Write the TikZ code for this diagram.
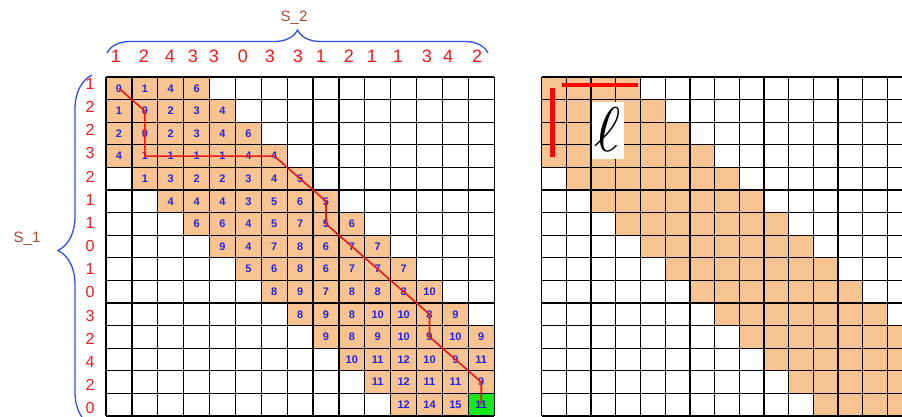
\documentclass[tikz,border=0pt]{standalone}
\usepackage{fontspec}
\usepackage{graphicx}
\setmainfont{Liberation Sans}
\usetikzlibrary{decorations.pathreplacing}
\definecolor{peach}{RGB}{247,196,145}
\definecolor{cellgreen}{RGB}{20,235,20}
\definecolor{numblue}{RGB}{35,35,225}
\definecolor{labred}{RGB}{245,25,25}
\definecolor{bracblue}{RGB}{50,80,240}
\definecolor{sbrown}{RGB}{170,75,55}
\definecolor{pathred}{RGB}{235,25,25}
\begin{document}
\begin{tikzpicture}[x=1pt,y=-1pt,
  gridline/.style={line width=1.3pt,black},
  num/.style={text=numblue,font=\fontsize{11}{12}\selectfont\bfseries,inner sep=0pt},
  rowlab/.style={text=labred,font=\fontsize{16}{18}\selectfont,inner sep=0pt},
  toplab/.style={text=labred,font=\fontsize{18}{20}\selectfont,inner sep=0pt},
  slab/.style={text=sbrown,font=\fontsize{15}{17}\selectfont,inner sep=0pt},
  redpath/.style={draw=pathred,line width=1.6pt},
  redbar/.style={draw=red,line width=4.5pt},
  bracestyle/.style={draw=bracblue,line width=1.3pt,decorate}]
\useasboundingbox (0,0) rectangle (902,416);
\clip (0,0) rectangle (902,416);
\fill[white] (0,0) rectangle (902,416);
% band fills
\foreach \r in {1,...,15}{
  \pgfmathtruncatemacro\cs{max(1,\r-3)}
  \pgfmathtruncatemacro\ce{min(15,\r+3)}
  \fill[peach] ({106+(\cs-1)*25.88},{77+(\r-1)*22.6}) rectangle ({106+\ce*25.88},{77+\r*22.6});
  \fill[peach] ({541.7+(\cs-1)*24.7},{77+(\r-1)*22.6}) rectangle ({541.7+\ce*24.7},{77+\r*22.6});
}
\fill[cellgreen] ({106+14*25.88},{77+14*22.6}) rectangle ({106+15*25.88},{77+15*22.6});
% grid lines
\foreach \i in {0,...,15}{
  \draw[gridline] ({106+\i*25.88},77) -- ({106+\i*25.88},416);
  \draw[gridline] (106,{77+\i*22.6}) -- ({106+15*25.88},{77+\i*22.6});
  \draw[gridline] ({541.7+\i*24.7},77) -- ({541.7+\i*24.7},416);
  \draw[gridline] (541.7,{77+\i*22.6}) -- (910,{77+\i*22.6});
}
% numbers
\foreach \r/\s/\vals in {1/1/{0,1,4,6},2/1/{1,0,2,3,4},3/1/{2,0,2,3,4,6},4/1/{4,1,1,1,1,4,4},
  5/2/{1,3,2,2,3,4,5},6/3/{4,4,4,3,5,6,5},7/4/{6,6,4,5,7,5,6},8/5/{9,4,7,8,6,7,7},
  9/6/{5,6,8,6,7,7,7},10/7/{8,9,7,8,8,8,10},11/8/{8,9,8,10,10,8,9},12/9/{9,8,9,10,9,10,9},
  13/10/{10,11,12,10,9,11},14/11/{11,12,11,11,9},15/12/{12,14,15,11}}{
  \foreach \v [count=\k from 0] in \vals {
    \pgfmathtruncatemacro\c{\s+\k}
    \node[num] (n-\r-\c) at ({106+(\c-0.5)*25.88},{77+(\r-0.5)*22.6}) {\v};
  }
}
% red path
\draw[redpath] (n-1-1.center) -- (n-2-2.center) -- (n-3-2.center) -- (n-4-2.center)
  -- (n-4-3.center) -- (n-4-4.center) -- (n-4-5.center) -- (n-4-6.center) -- (n-4-7.center)
  -- (n-5-8.center) -- (n-6-9.center) -- (n-7-9.center) -- (n-8-10.center) -- (n-9-11.center)
  -- (n-10-12.center) -- (n-11-13.center) -- (n-12-13.center) -- (n-13-14.center)
  -- (n-14-15.center) -- (n-15-15.center);
% row labels
\foreach \v [count=\i] in {1,2,2,3,2,1,1,0,1,0,3,2,4,2,0}
  \node[rowlab] (r\i) at (90,{84+(\i-1)*23.16}) {\v};
% column labels
\foreach \v/\xx [count=\i] in {1/116,2/144,4/170,3/193,3/214,0/243,3/270,3/298,1/321,2/349,1/372,1/398,3/427,4/448,2/477}
  \node[toplab] (c\i) at (\xx,56.5) {\v};
% braces
\coordinate (tb1) at (107,53);
\coordinate (tb2) at (488,53);
\draw[bracestyle,decoration={brace,amplitude=23pt,aspect=0.5}] (tb1) -- (tb2);
\coordinate (lb1) at (92,426);
\coordinate (lb2) at (92,75);
\draw[bracestyle,decoration={brace,amplitude=34pt,aspect=0.5}] (lb1) -- (lb2);
\node[slab] (s2) at (294,18) {S\_2};
\node[slab] (s1) at (27,239) {S\_1};
% right grid annotations
\node[fill=white,inner sep=0pt,minimum width=32pt,minimum height=57pt] (ell) at (607.5,130) {};
\node[inner sep=0pt] (ellsym) at (607.5,130) {\scalebox{6.3}{$\ell$}};
\coordinate (hb1) at (561.7,85);
\coordinate (hb2) at (638.3,85);
\draw[redbar] (hb1) -- (hb2);
\coordinate (vb1) at (552.3,88);
\coordinate (vb2) at (552.3,157);
\draw[redbar] (vb1) -- (vb2);
\end{tikzpicture}
\end{document}
